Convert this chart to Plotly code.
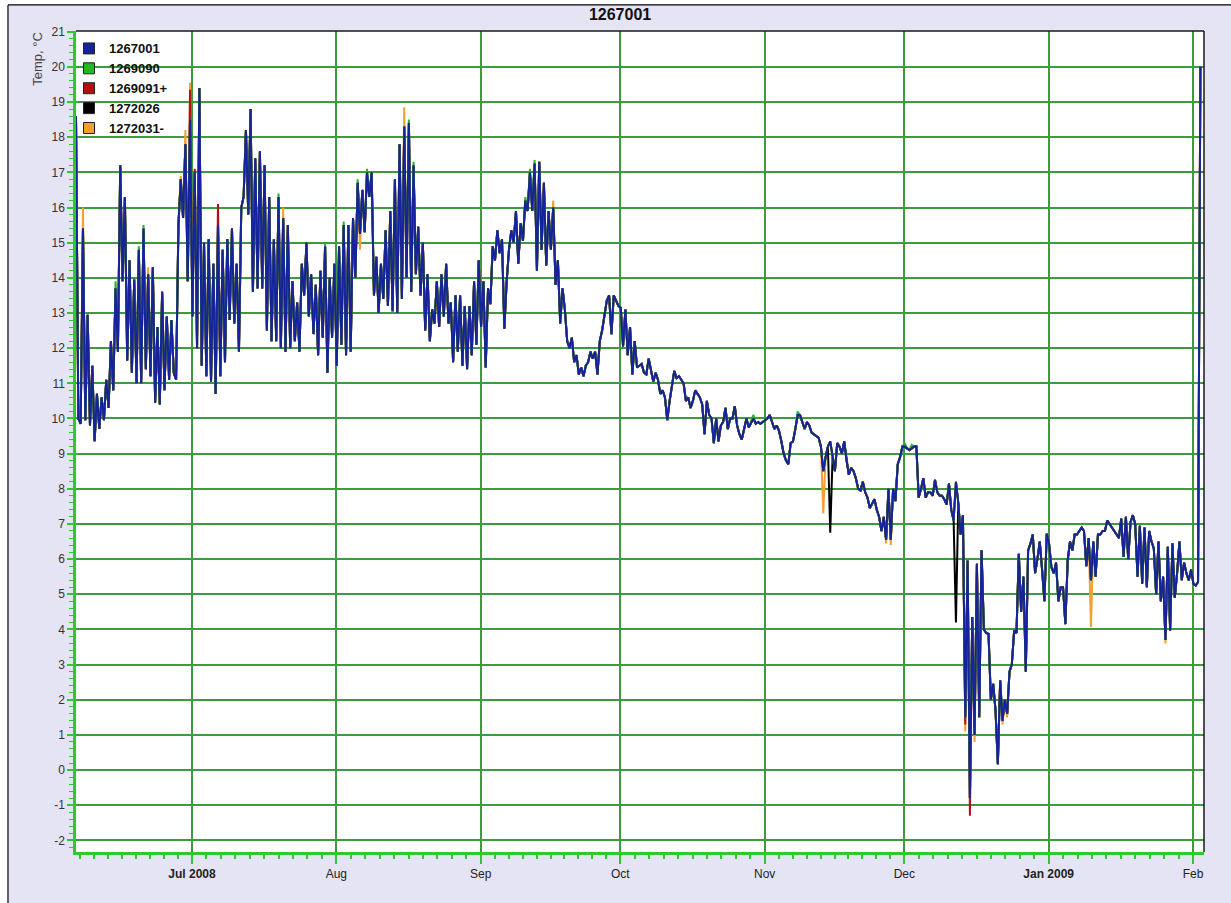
import pandas as pd
import plotly.graph_objects as go

# ---------------- data ----------------
# readings every 12 h starting 2008-06-06 02:00 (pairs: ~02:00, ~14:00)
start_time = "2008-06-06 02:00"
temps_1267001 = [
    18.6, 10.0, 9.85, 15.4, 9.95, 12.95, 9.8, 11.5, 9.35, 10.7,
    9.7, 10.6, 9.95, 11.1, 10.3, 12.2, 10.8, 13.7, 11.9, 17.2,
    13.9, 16.3, 11.65, 14.5, 11.3, 13.95, 11.0, 14.8, 11.0, 15.4,
    11.4, 14.1, 11.2, 14.3, 10.45, 12.6, 10.4, 13.6, 10.8, 12.9,
    11.1, 12.8, 11.3, 11.1, 15.5, 16.8, 15.7, 17.8, 13.9, 18.5,
    12.9, 17.0, 12.0, 19.4, 11.5, 15.0, 11.2, 15.1, 11.05, 14.4,
    10.7, 15.5, 11.2, 14.8, 11.6, 15.1, 12.8, 15.4, 12.7, 14.4,
    11.9, 16.0, 16.3, 18.2, 15.8, 18.8, 13.6, 17.4, 13.7, 17.6,
    13.7, 17.2, 12.5, 16.3, 12.2, 15.1, 12.2, 16.3, 12.0, 15.7,
    11.9, 15.5, 12.0, 13.9, 12.2, 13.3, 11.9, 14.4, 13.5, 15.0,
    12.9, 14.1, 12.4, 13.8, 11.8, 14.2, 12.3, 14.9, 11.3, 14.0,
    12.3, 14.4, 11.5, 14.9, 12.1, 15.5, 11.8, 15.5, 11.9, 15.7,
    14.0, 16.7, 15.25, 16.5, 15.3, 17.0, 16.3, 17.0, 13.5, 14.6,
    13.0, 14.4, 13.4, 15.35, 13.2, 15.9, 13.05, 16.8, 13.0, 17.8,
    13.4, 18.3, 14.0, 18.4, 13.6, 17.2, 14.1, 15.45, 13.5, 15.0,
    12.5, 14.1, 12.2, 13.1, 12.7, 13.9, 12.6, 14.1, 12.9, 14.4,
    12.7, 13.3, 11.6, 13.5, 11.9, 13.5, 11.5, 13.2, 11.4, 13.2,
    11.8, 13.9, 12.1, 14.5, 12.6, 13.9, 11.45, 13.7, 13.25, 14.9,
    14.5, 15.35, 14.7, 15.1, 12.55, 13.9, 14.8, 15.35, 15.0, 15.9,
    14.4, 15.55, 15.05, 16.2, 15.9, 17.0, 15.9, 17.25, 14.2, 17.3,
    14.8, 16.7, 14.35, 15.9, 14.8, 16.0, 13.8, 14.5, 12.7, 13.7,
    13.1, 12.2, 12.0, 12.3, 11.6, 11.8, 11.25, 11.45, 11.2, 11.5,
    11.6, 11.9, 11.7, 11.9, 11.25, 12.2, 12.5, 12.9, 13.35, 13.5,
    12.4, 13.5, 13.35, 13.2, 13.15, 12.05, 13.1, 11.8, 12.6, 11.25,
    12.2, 11.45, 11.5, 11.55, 11.3, 11.25, 11.7, 11.4, 11.05, 11.3,
    11.1, 10.7, 10.8, 10.6, 9.95, 10.5, 10.9, 11.35, 11.15, 11.2,
    11.1, 11.0, 10.5, 10.6, 10.3, 10.5, 10.8, 10.7, 10.6, 10.4,
    9.55, 10.5, 10.1, 10.0, 9.3, 10.0, 9.35, 9.8, 9.9, 10.3,
    9.7, 10.0, 10.0, 10.35, 9.8, 9.55, 9.4, 9.7, 10.0, 9.75,
    9.9, 10.0, 9.85, 9.9, 9.85, 9.9, 9.95, 10.0, 10.1, 9.9,
    9.7, 9.8, 9.65, 9.35, 9.0, 8.8, 8.7, 9.3, 9.35, 9.7,
    10.1, 10.1, 9.9, 9.7, 9.9, 9.8, 9.6, 9.55, 9.5, 9.45,
    9.2, 8.5, 8.9, 9.2, 9.35, 8.9, 8.5, 9.3, 9.2, 9.0,
    9.35, 8.8, 8.4, 8.6, 8.5, 8.3, 8.0, 7.95, 8.2, 7.9,
    7.75, 7.45, 7.6, 7.7, 7.4, 7.2, 6.8, 7.2, 6.55, 8.0,
    6.55, 8.0, 7.65, 8.7, 8.9, 9.2, 9.2, 9.15, 9.1, 9.15,
    9.2, 9.2, 7.75, 8.0, 8.3, 7.75, 7.9, 7.9, 7.8, 8.25,
    7.9, 7.8, 7.8, 7.7, 7.55, 8.15, 7.4, 7.1, 8.2, 7.6,
    6.7, 7.25, 1.5, 5.96, -0.8, 4.35, 1.0, 5.87, 1.5, 6.25,
    4.0, 3.9, 3.87, 2.0, 2.45, 1.7, 0.17, 2.55, 1.4, 2.0,
    1.6, 2.8, 3.0, 3.97, 3.9, 6.15, 4.5, 5.5, 2.8, 6.25,
    6.44, 6.7, 5.6, 6.0, 6.5, 5.7, 4.8, 6.72, 6.44, 5.77,
    5.6, 5.9, 4.8, 5.2, 5.2, 4.15, 5.96, 6.5, 6.25, 6.7,
    6.7, 6.8, 6.9, 6.8, 5.8, 6.6, 5.4, 6.5, 5.5, 6.7,
    6.7, 6.8, 6.8, 7.1, 7.0, 6.9, 6.8, 6.7, 6.6, 7.15,
    6.06, 7.2, 6.0, 7.05, 7.25, 7.0, 5.5, 6.95, 5.3, 6.9,
    5.2, 6.8, 6.5, 6.3, 5.0, 6.5, 4.8, 5.5, 3.7, 6.35,
    3.97, 6.45, 4.9, 5.6, 6.5, 5.4, 5.9, 5.6, 5.4, 5.7,
    5.3, 5.25, 5.35, 20.0,
]

# other sensors: identical to 1267001 except at these readings (index: value)
diff_1269090 = {17: 13.9, 27: 14.9, 29: 15.5, 44: 15.6, 87: 16.4, 107: 15.0,
                115: 15.6, 121: 16.8, 125: 17.1, 143: 18.5, 145: 17.3,
                193: 16.3, 195: 17.1, 197: 17.35, 291: 10.1, 310: 10.2,
                356: 9.3, 359: 9.25}
diff_1269091 = {49: 19.35, 51: 17.1, 61: 16.1, 382: 1.3, 384: -1.3}
diff_1272026 = {324: 6.75, 378: 4.2}
diff_1272031 = {3: 16.0, 31: 14.3, 45: 16.9, 47: 18.2, 49: 19.55, 89: 16.0,
                122: 14.8, 141: 18.85, 205: 16.2, 321: 7.3, 348: 6.45,
                350: 6.4, 382: 1.1, 386: 0.8, 398: 1.3, 400: 1.5,
                436: 4.06, 468: 3.6}

series_names = ["1267001", "1269090", "1269091+", "1272026", "1272031-"]
series_colors = ["#17239a", "#22b822", "#b01212", "#000000", "#f2a030"]

month_ticks = ["2008-07-01", "2008-08-01", "2008-09-01", "2008-10-01",
               "2008-11-01", "2008-12-01", "2009-01-01", "2009-02-01"]
month_labels = ["<b>Jul 2008</b>", "Aug", "Sep", "Oct", "Nov", "Dec",
                "<b>Jan 2009</b>", "Feb"]
y_ticks = list(range(-2, 22))

# ---------------- build ----------------
times = pd.date_range(start_time, periods=len(temps_1267001), freq="12h")


def with_diff(base, diff):
    out = list(base)
    for i, v in diff.items():
        out[i] = v
    return out


series_vals = [
    temps_1267001,
    with_diff(temps_1267001, diff_1269090),
    with_diff(temps_1267001, diff_1269091),
    with_diff(temps_1267001, diff_1272026),
    with_diff(temps_1267001, diff_1272031),
]

# minor x ticks: 10 subdivisions per month
minor_x = []
month_edges = pd.date_range("2008-06-01", "2009-03-01", freq="MS")
for a, b in zip(month_edges[:-1], month_edges[1:]):
    step = (b - a) / 10
    for k in range(1, 10):
        minor_x.append(a + step * k)

fig = go.Figure()

# legend entries (square swatches)
for name, col in zip(series_names, series_colors):
    fig.add_trace(go.Scatter(
        x=[None], y=[None], mode="markers", name=name,
        marker=dict(symbol="square", size=11, color=col,
                    line=dict(color="#222222", width=1)),
        showlegend=True))

# lines: draw others first, 1267001 on top
for idx in [4, 3, 2, 1, 0]:
    fig.add_trace(go.Scatter(
        x=times, y=series_vals[idx], mode="lines", name=series_names[idx],
        line=dict(color=series_colors[idx], width=2),
        showlegend=False, hoverinfo="skip"))

axis_green = "#2fc82f"
grid_green = "#3e9a3e"
font_fam = "Arial, Liberation Sans, sans-serif"

fig.update_layout(
    width=1231, height=903,
    margin=dict(l=76, r=27, t=31, b=51),
    paper_bgcolor="#e4e4f5",
    plot_bgcolor="#ffffff",
    font=dict(family=font_fam, size=12, color="#333333"),
    title=dict(text="<b>1267001</b>", x=0.5037, xanchor="center",
               y=0.9845, yanchor="middle",
               font=dict(family=font_fam, size=16, color="#111111")),
    showlegend=True,
    legend=dict(x=-0.0062, y=0.997, xanchor="left", yanchor="top",
                bgcolor="rgba(0,0,0,0)",
                font=dict(family=font_fam, size=13, color="#111111",
                          weight="bold"),
                itemwidth=30, tracegroupgap=0),
    xaxis=dict(
        type="date",
        range=["2008-06-06 02:00", "2009-02-03 08:40"],
        tickmode="array", tickvals=month_ticks, ticktext=month_labels,
        ticks="outside", ticklen=9, tickwidth=1.5, tickcolor=axis_green,
        showgrid=True, gridcolor=grid_green, gridwidth=1.5,
        showline=True, linecolor=axis_green, linewidth=2.5,
        zeroline=False,
        tickfont=dict(family=font_fam, size=12, color="#222222"),
        minor=dict(tickmode="array", tickvals=minor_x, ticks="outside",
                   ticklen=4, tickwidth=1.5, tickcolor=axis_green,
                   showgrid=False),
    ),
    yaxis=dict(
        range=[-2.33, 21.02],
        tickmode="array", tickvals=y_ticks, ticktext=[str(v) for v in y_ticks],
        ticks="outside", ticklen=6, tickwidth=1.5, tickcolor=axis_green,
        showgrid=True, gridcolor=grid_green, gridwidth=1.5,
        showline=True, linecolor=axis_green, linewidth=2.5,
        zeroline=False,
        tickfont=dict(family=font_fam, size=12, color="#333333"),
        minor=dict(dtick=0.2, tick0=0, ticks="outside", ticklen=4,
                   tickwidth=1, tickcolor=axis_green, showgrid=False),
    ),
    annotations=[dict(
        text="Temp, °C", textangle=-90, xref="paper", yref="paper",
        x=-0.034, y=1.001, xanchor="center", yanchor="top",
        showarrow=False, font=dict(family=font_fam, size=13, color="#444444"))],
    shapes=[
        # white margin outside the outer frame
        dict(type="rect", xref="paper", yref="paper", x0=-0.08, x1=-0.0603,
             y0=-0.08, y1=1.05, fillcolor="#ffffff", line=dict(width=0)),
        dict(type="rect", xref="paper", yref="paper", x0=-0.08, x1=1.05,
             y0=1.0317, y1=1.05, fillcolor="#ffffff", line=dict(width=0)),
        # outer frame
        dict(type="line", xref="paper", yref="paper", x0=-0.0603, x1=-0.0603,
             y0=-0.08, y1=1.0317, line=dict(color="#000000", width=1.2)),
        dict(type="line", xref="paper", yref="paper", x0=-0.0603, x1=1.05,
             y0=1.0317, y1=1.0317, line=dict(color="#000000", width=1.2)),
        # plot-area top and right borders
        dict(type="line", xref="paper", yref="paper", x0=0, x1=1, y0=1, y1=1,
             line=dict(color="#1a1a1a", width=1.5)),
        dict(type="line", xref="paper", yref="paper", x0=1, x1=1, y0=0, y1=1,
             line=dict(color="#1a1a1a", width=1.5)),
    ],
)

fig.write_html("out.html")
